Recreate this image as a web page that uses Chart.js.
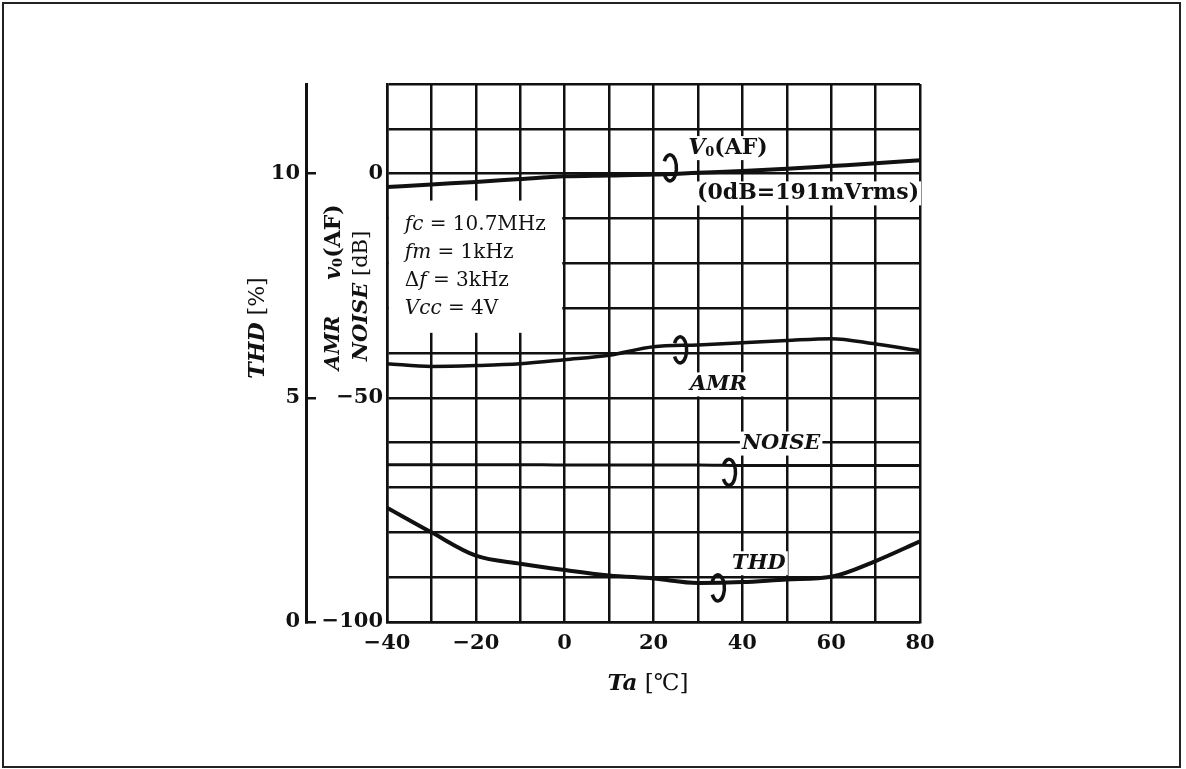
<!DOCTYPE html>
<html>
<head>
<meta charset="utf-8">
<script src="https://cdn.jsdelivr.net/npm/chart.js@4.4.1/dist/chart.umd.min.js"></script>
<style>
  html, body { margin: 0; padding: 0; background: #fff; }
  canvas { display: block; }
</style>
</head>
<body>
<canvas id="chart" width="1186" height="769"></canvas>
<script>
// readings taken off the printed curves, every 10 degC
const temps = [-40, -30, -20, -10, 0, 10, 20, 30, 40, 50, 60, 70, 80];
const voAF  = [-3.0, -2.4, -1.85, -1.2, -0.6, -0.4, -0.2, 0.2, 0.6, 1.1, 1.7, 2.3, 3.0];   // dB
const amr   = [-42.4, -43.0, -42.8, -42.4, -41.5, -40.5, -38.6, -38.2, -37.7, -37.2, -36.8, -38.0, -39.5]; // dB
const noise = [-64.9, -64.9, -64.9, -64.9, -65.0, -65.0, -65.0, -65.0, -65.1, -65.1, -65.1, -65.1, -65.1]; // dB
const thd   = [2.55, 2.0, 1.48, 1.3, 1.16, 1.04, 0.97, 0.87, 0.89, 0.95, 1.01, 1.36, 1.8];   // %

const tempLabels = [-40, -20, 0, 20, 40, 60, 80];
const dbLabels = [0, -50, -100];
const thdLabels = [0, 5, 10];
const conditions = [
  [['fc', 'i'], [' = 10.7MHz', 'n']],
  [['fm', 'i'], [' = 1kHz', 'n']],
  [['Δ', 'n'], ['f', 'i'], [' = 3kHz', 'n']],
  [['Vcc', 'i'], [' = 4V', 'n']]
];

const SERIF = '"DejaVu Serif", "Liberation Serif", serif';
const INK = '#111';

const minus = v => (v < 0 ? '\u2212' + Math.abs(v) : String(v));
const pts = ys => temps.map((t, i) => ({ x: t, y: ys[i] }));
const f = (style, weight, size) => `${style} ${weight} ${size}px ${SERIF}`;

// draws a run of differently styled text pieces, middle at y
function richText(ctx, parts, x, y, align) {
  ctx.textBaseline = 'middle';
  ctx.textAlign = 'left';
  let total = 0;
  parts.forEach(p => { ctx.font = p.font; total += ctx.measureText(p.t).width; });
  let cx = align === 'center' ? x - total / 2 : x;
  parts.forEach(p => {
    ctx.font = p.font;
    ctx.fillText(p.t, cx, y + (p.dy || 0));
    cx += ctx.measureText(p.t).width;
  });
  return total;
}

const decorations = {
  id: 'decorations',
  beforeDraw(chart) {
    const ctx = chart.ctx;
    ctx.save();
    ctx.fillStyle = '#fff';
    ctx.fillRect(0, 0, chart.width, chart.height);
    ctx.strokeStyle = '#222';
    ctx.lineWidth = 2;
    ctx.strokeRect(3, 3, 1177, 764);
    ctx.restore();
  },
  afterDraw(chart) {
    const ctx = chart.ctx;
    const xs = chart.scales.x, ys = chart.scales.y;
    const px = v => xs.getPixelForValue(v), py = v => ys.getPixelForValue(v);
    ctx.save();

    // condition box
    const bx0 = px(-40), bx1 = px(-1), by0 = py(-6), by1 = py(-35.5);
    ctx.fillStyle = '#fff';
    ctx.fillRect(bx0 + 2, by0, bx1 - bx0, by1 - by0);
    ctx.fillStyle = INK;
    conditions.forEach((row, i) => {
      const parts = row.map(([t, s]) => ({ t, font: s === 'i' ? f('italic', 'normal', 20) : f('normal', 'normal', 20) }));
      richText(ctx, parts, px(-36), py(-11.3 - i * 6.25), 'left');
    });

    // curve labels with white backing
    const labels = [
      { x: 27.8, y: 5.7, parts: [{ t: 'V', font: f('italic', 'bold', 22) }, { t: '0', font: f('normal', 'bold', 13), dy: 5 }, { t: '(AF)', font: f('normal', 'bold', 22) }] },
      { x: 29.8, y: -4.4, parts: [{ t: '(0dB=191mVrms)', font: f('normal', 'bold', 22) }] },
      { x: 28.2, y: -47.0, parts: [{ t: 'AMR', font: f('italic', 'bold', 21) }] },
      { x: 39.9, y: -60.2, parts: [{ t: 'NOISE', font: f('italic', 'bold', 21) }] },
      { x: 37.7, y: -86.9, parts: [{ t: 'THD', font: f('italic', 'bold', 21) }] }
    ];
    labels.forEach(l => {
      let w = 0;
      l.parts.forEach(p => { ctx.font = p.font; w += ctx.measureText(p.t).width; });
      ctx.fillStyle = '#fff';
      ctx.fillRect(px(l.x) - 2, py(l.y) - 12, w + 4, 24);
      ctx.fillStyle = INK;
      richText(ctx, l.parts, px(l.x), py(l.y), 'left');
    });

    // hook marks pointing each label to its curve
    const hooks = [{ x: 23.7, y: 1.3 }, { x: 26.0, y: -39.3 }, { x: 37.0, y: -66.6 }, { x: 34.5, y: -92.4 }];
    ctx.strokeStyle = INK;
    ctx.lineWidth = 3.5;
    hooks.forEach(h => {
      ctx.beginPath();
      ctx.ellipse(px(h.x), py(h.y), 6.5, 13, 0, -2.6, 2.6, false);
      ctx.stroke();
    });

    // axis titles
    ctx.fillStyle = INK;
    const vert = (x, y, parts) => {
      ctx.save();
      ctx.translate(x, y);
      ctx.rotate(-Math.PI / 2);
      richText(ctx, parts, 0, 0, 'center');
      ctx.restore();
    };
    vert(258, 328, [{ t: 'THD', font: f('italic', 'bold', 22) }, { t: ' [%]', font: f('normal', 'normal', 22) }]);
    vert(334, 343, [{ t: 'AMR', font: f('italic', 'bold', 20) }]);
    vert(334, 242, [{ t: 'v', font: f('italic', 'bold', 22) }, { t: '0', font: f('normal', 'bold', 13), dy: 5 }, { t: '(AF)', font: f('normal', 'bold', 22) }]);
    vert(362, 296, [{ t: 'NOISE', font: f('italic', 'bold', 21) }, { t: ' [dB]', font: f('normal', 'normal', 21) }]);
    richText(ctx, [{ t: 'Ta', font: f('italic', 'bold', 23) }, { t: ' [℃]', font: f('normal', 'normal', 23) }], 648, 684, 'center');
    ctx.restore();
  }
};

const line = (data, axis, width) => ({
  data, yAxisID: axis, borderColor: INK, borderWidth: width,
  pointRadius: 0, fill: false, cubicInterpolationMode: 'monotone'
});

const tickFont = { family: SERIF, size: 21, weight: 'bold' };

new Chart(document.getElementById('chart'), {
  type: 'line',
  data: {
    datasets: [
      line(pts(voAF), 'y', 4),
      line(pts(amr), 'y', 3.5),
      line(pts(noise), 'y', 3),
      line(pts(thd), 'y2', 4)
    ]
  },
  options: {
    responsive: false,
    animation: false,
    devicePixelRatio: 1,
    layout: { padding: { left: 200, right: 266, top: 84, bottom: 67 } },
    plugins: { legend: { display: false }, tooltip: { enabled: false } },
    scales: {
      x: {
        type: 'linear', min: -40, max: 80,
        ticks: {
          stepSize: 10, autoSkip: false, maxRotation: 0, padding: 9, color: INK, font: tickFont,
          callback: v => (tempLabels.includes(v) ? minus(v) : '')
        },
        grid: { color: INK, lineWidth: 2.5, drawTicks: false },
        border: { color: INK, width: 2.5 },
        afterFit: s => { s.height = 80; }
      },
      y: {
        position: 'left', min: -100, max: 20,
        ticks: {
          stepSize: 10, autoSkip: false, padding: 4, color: INK, font: tickFont,
          callback: v => (dbLabels.includes(v) ? minus(v) : '')
        },
        grid: { color: INK, lineWidth: 2.5, drawTicks: false },
        border: { color: INK, width: 2.5 },
        afterFit: s => { s.width = 81; }
      },
      y2: {
        position: 'left', min: 0, max: 12,
        ticks: {
          stepSize: 5, includeBounds: false, padding: 16, color: INK, font: tickFont,
          callback: v => (thdLabels.includes(v) ? String(v) : '')
        },
        grid: { drawOnChartArea: false, drawTicks: true, tickLength: -10, color: INK, lineWidth: 2.5 },
        border: { color: INK, width: 3 },
        afterFit: s => { s.width = 106; }
      }
    }
  },
  plugins: [decorations]
});
</script>
</body>
</html>
